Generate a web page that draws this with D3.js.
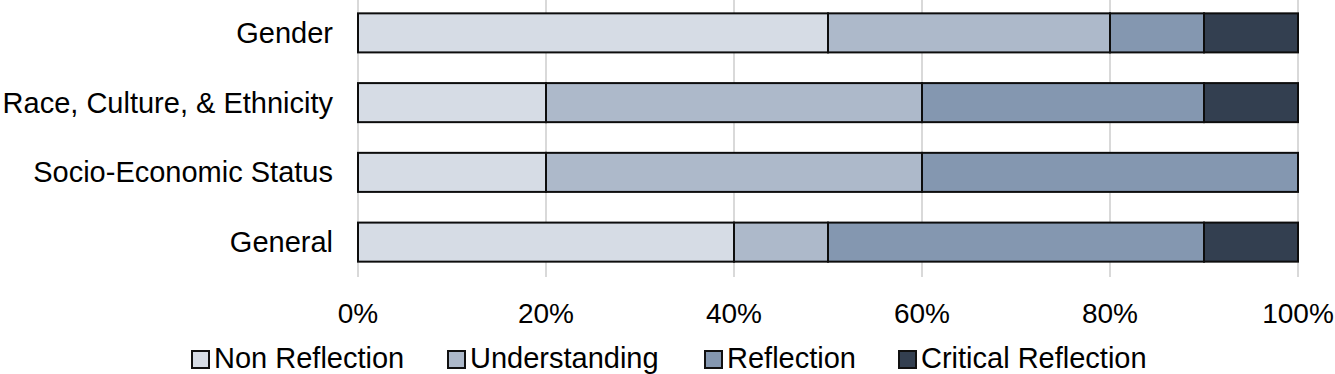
<!DOCTYPE html>
<html>
<head>
<meta charset="utf-8">
<script src="https://cdn.jsdelivr.net/npm/d3@7"></script>
<style>
  body { margin: 0; background: #fff; }
  text { font-family: "Liberation Sans", Arial, sans-serif; fill: #000; }
</style>
</head>
<body>
<svg id="chart" width="1335" height="374"></svg>
<script>
// data, top to bottom
var categories = ["Gender", "Race, Culture, & Ethnicity", "Socio-Economic Status", "General"];
var seriesNames = ["Non Reflection", "Understanding", "Reflection", "Critical Reflection"];
var nonReflection = [50, 20, 20, 40];
var understanding = [30, 40, 40, 10];
var reflection = [10, 30, 40, 40];
var criticalReflection = [10, 10, 0, 10];
var tickValues = [0, 20, 40, 60, 80, 100];

var colors = ["#D6DCE5", "#ADB9CA", "#8497B0", "#333F50"];

// build rows for the stack
var rows = categories.map(function (c, i) {
    return {
        cat: c,
        "Non Reflection": nonReflection[i],
        "Understanding": understanding[i],
        "Reflection": reflection[i],
        "Critical Reflection": criticalReflection[i]
    };
});

var svg = d3.select("#chart");

var x = d3.scaleLinear().domain([0, 100]).range([358, 1298]);
var y = d3.scaleBand().domain(categories).range([-2, 277]).paddingInner(0.44).paddingOuter(0.22);

// gridlines
svg.append("g").selectAll("line").data(tickValues).enter().append("line")
    .attr("x1", function (d) { return x(d); })
    .attr("x2", function (d) { return x(d); })
    .attr("y1", 0)
    .attr("y2", 277)
    .attr("stroke", "#D9D9D9")
    .attr("stroke-width", 2);

var stack = d3.stack().keys(seriesNames);
var layers = stack(rows);

var g = svg.append("g");
layers.forEach(function (layer, k) {
    g.selectAll("rect.s" + k).data(layer.filter(function (d) { return d[1] > d[0]; }))
        .enter().append("rect")
        .attr("class", "s" + k)
        .attr("x", function (d) { return x(d[0]); })
        .attr("width", function (d) { return x(d[1]) - x(d[0]); })
        .attr("y", function (d) { return y(d.data.cat); })
        .attr("height", y.bandwidth())
        .attr("fill", colors[k])
        .attr("stroke", "#0d0d0d")
        .attr("stroke-width", 2);
});

// x tick labels
svg.append("g").selectAll("text").data(tickValues).enter().append("text")
    .attr("x", function (d) { return x(d); })
    .attr("y", 323)
    .attr("text-anchor", "middle")
    .style("font-size", "28px")
    .text(function (d) { return d + "%"; });

// category labels
svg.append("g").selectAll("text").data(categories).enter().append("text")
    .attr("x", 333)
    .attr("y", function (d) { return y(d) + y.bandwidth() / 2 + 10; })
    .attr("text-anchor", "end")
    .style("font-size", "29px")
    .text(function (d) { return d; });

// legend
var legendX = [192, 448, 705, 899];
var lg = svg.append("g").selectAll("g").data(seriesNames).enter().append("g")
    .attr("transform", function (d, i) { return "translate(" + legendX[i] + ",351)"; });
lg.append("rect")
    .attr("width", 17)
    .attr("height", 17)
    .attr("fill", function (d, i) { return colors[i]; })
    .attr("stroke", "#111")
    .attr("stroke-width", 2);
lg.append("text")
    .attr("x", 22)
    .attr("y", 17)
    .style("font-size", "29px")
    .text(function (d) { return d; });
</script>
</body>
</html>
